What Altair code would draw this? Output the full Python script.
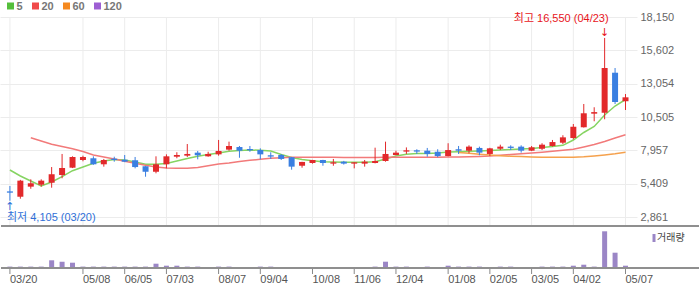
import altair as alt
import pandas as pd

# ---------------- data ----------------
tick_pos = [0, 7, 11, 15, 20, 24, 29, 33, 37, 42, 46, 50, 54, 59]
tick_labels = ["03/20", "05/08", "06/05", "07/03", "08/07", "09/04", "10/08",
               "11/06", "12/04", "01/08", "02/05", "03/05", "04/02", "05/07"]
price_ticks = [18150, 15602, 13054, 10505, 7957, 5409, 2861]

opens = [4820, 4410, 5180, 5330, 5480, 6070, 6630, 7220, 7350, 6890,
         7320, 7240, 7200, 6740, 6320, 6890, 7470, 7550, 7780, 7500,
         7650, 8010, 8210, 8060, 7980, 7580, 7600, 7430, 6780, 6990,
         7220, 6940, 7090, 6940, 6940, 6990, 7140, 7600, 7860, 7960,
         7930, 7850, 7520, 8040, 7930, 8140, 7680, 8080, 8240, 8240,
         7930, 8080, 8290, 8540, 8900, 9720, 10760, 10830, 13890, 11710]
highs = [5230, 5700, 5740, 5740, 6680, 7680, 7500, 7550, 7500, 7300,
         7470, 7600, 7450, 6750, 7500, 7650, 7810, 8440, 7910, 7850,
         8750, 8620, 8290, 8290, 8110, 7810, 7680, 7450, 7080, 7230,
         7230, 7300, 7150, 7040, 7220, 8160, 8620, 7930, 8180, 8040,
         8140, 8040, 8500, 8290, 8340, 8240, 8150, 8390, 8340, 8340,
         8290, 8500, 8750, 9110, 9970, 11500, 11250, 16550, 14250, 12260]
lows = [4105, 4260, 5020, 5180, 5100, 5820, 6600, 7120, 6850, 6710,
        7090, 7050, 6580, 5940, 6200, 6580, 7350, 7450, 7270, 7470,
        7550, 7930, 7390, 7850, 7270, 7300, 7220, 6480, 6630, 6940,
        6780, 6780, 6870, 6580, 6710, 6960, 7090, 7580, 7680, 7680,
        7470, 7430, 7500, 7680, 7730, 7580, 7520, 7980, 7980, 7780,
        7900, 7980, 8240, 8440, 8800, 9700, 10180, 10330, 11500, 11040]
closes = [4720, 5640, 5440, 5640, 6130, 6610, 7450, 7450, 6890, 7220,
          7220, 7090, 6680, 6320, 6890, 7500, 7600, 7680, 7580, 7680,
          7910, 8290, 7930, 7960, 7650, 7480, 7300, 6710, 7070, 7220,
          6990, 7040, 6940, 7040, 7090, 7140, 7680, 7780, 7960, 7860,
          7680, 7520, 7980, 7930, 8240, 7780, 8110, 8240, 8140, 7930,
          8190, 8390, 8590, 8950, 9760, 10790, 10880, 14250, 11650, 12010]
volumes = [140, 140, 140, 140, 770, 630, 530, 140, 140, 140,
           140, 140, 140, 140, 430, 230, 230, 140, 140, 40,
           140, 140, 40, 40, 140, 140, 40, 40, 30, 30,
           30, 30, 30, 40, 60, 140, 630, 140, 140, 40,
           140, 40, 230, 140, 140, 140, 40, 140, 140, 40,
           40, 140, 140, 140, 230, 330, 140, 3670, 1530, 230]  # thousands

ma5 = [6454, 5995, 5613, 5231, 5537, 5942, 6400, 6683, 6966, 7142,
       7257, 7218, 7066, 6890, 6890, 6951, 7142, 7333, 7501, 7639,
       7753, 7883, 7944, 7983, 7960, 7906, 7639, 7410, 7257, 7165,
       7088, 7066, 7043, 7043, 7043, 7088, 7295, 7524, 7654, 7715,
       7715, 7753, 7830, 7853, 7883, 7906, 7944, 7983, 8021, 8059,
       8098, 8174, 8250, 8342, 8747, 9321, 9779, 10658, 11346, 11843]
ma20 = [8923, 8671, 8419, 8250, 8082, 7868, 7601, 7448, 7295, 7119,
        6974, 6813, 6683, 6607, 6584, 6584, 6645, 6775,
        6913, 6989, 7104, 7196, 7272, 7348, 7387, 7425, 7425, 7425,
        7425, 7420, 7418, 7415, 7412, 7415, 7420, 7425, 7430, 7430,
        7432, 7432, 7448, 7448, 7463, 7486, 7524, 7578, 7639, 7692,
        7753, 7815, 7891, 7960, 8036, 8212, 8403, 8633, 8900, 9152]
ma60 = [7792, 7731, 7662, 7601, 7547, 7509, 7478, 7448, 7432, 7425,
        7425, 7432, 7463, 7524, 7601, 7692, 7807]
ma_names = ["5", "20", "60", "120"]
high_date = "04/23"
low_date = "03/20"

# ---------------- styles ----------------
legend_colors = ["#55bf3b", "#f04a4a", "#f5891f", "#9d5fd3"]
line_colors = ["#86d462", "#f27a7a", "#f5a14d"]
RED = "#e2292b"
BLUE = "#3a7fe1"
VOL = "#9b86c6"
FONT = "Liberation Sans, Noto Sans CJK KR"

n = len(opens)
W, H = 637, 251
PX_PER = (price_ticks[0] - price_ticks[-1]) / 200.0
P_TOP = price_ticks[0]
p_min = P_TOP - H * PX_PER
grid_bottom = P_TOP - 209 * PX_PER
STEP = 10.6
x_scale = alt.Scale(domain=[-5 / STEP, (W - 5) / STEP], nice=False, zero=False)
y_scale = alt.Scale(domain=[p_min, P_TOP], nice=False, zero=False)
v_scale = alt.Scale(domain=[0, H * 100], nice=False, zero=False)

y_axis = alt.Axis(values=price_ticks, orient="right", format=",d", grid=True,
                  gridColor="#ececec", gridWidth=1, domain=False, ticks=False,
                  labelPadding=3, labelFontSize=11, labelColor="#666",
                  title=None, labelFlush=False, labelOverlap=False,
                  labelFont=FONT)

X = lambda f: alt.X(f, scale=x_scale, axis=None)
Y = lambda f: alt.Y(f, scale=y_scale, axis=None)

layers = []
one = pd.DataFrame({"k": [0]})
tdf = pd.DataFrame({"pos": tick_pos, "label": tick_labels})

# vertical grid + price axis
layers.append(
    alt.Chart(tdf)
    .transform_calculate(top=f"{P_TOP}", bot=f"{grid_bottom}")
    .mark_rule(color="#ececec", strokeWidth=1)
    .encode(x=X("pos:Q"),
            y=alt.Y("top:Q", scale=y_scale, axis=y_axis),
            y2="bot:Q"))

# moving averages
for name, vals, col in zip(ma_names[:3], [ma5, ma20, ma60], line_colors):
    start = n - len(vals)
    df = pd.DataFrame({"week": list(range(start, n)), "ma": vals})
    layers.append(alt.Chart(df).mark_line(color=col, strokeWidth=1.5).encode(
        x=X("week:Q"), y=Y("ma:Q")))

# candles
cdf = pd.DataFrame({"week": list(range(n)), "open": opens, "high": highs,
                    "low": lows, "close": closes})
cdf["dir"] = ["up" if c >= o else "down" for o, c in zip(opens, closes)]
cdf["b0"] = cdf[["open", "close"]].min(axis=1)
cdf["b1"] = cdf[["open", "close"]].max(axis=1)
for d, col in (("up", RED), ("down", BLUE)):
    base = alt.Chart(cdf).transform_filter(alt.datum.dir == d)
    layers.append(base.mark_rule(color=col, strokeWidth=1).encode(
        x=X("week:Q"), y=Y("low:Q"), y2="high:Q"))
    layers.append(base.mark_bar(color=col, size=6).encode(
        x=X("week:Q"), y=Y("b0:Q"), y2="b1:Q"))

# volume
vdf = pd.DataFrame({"week": list(range(n)), "vol": volumes})
layers.append(alt.Chart(vdf).mark_bar(color=VOL, size=5).encode(
    x=X("week:Q"), y=alt.Y("vol:Q", scale=v_scale, axis=None)))

# separators / axis line
for yy in (209, 251):
    layers.append(alt.Chart(one).mark_rule(color="#8f8f8f", strokeWidth=2).encode(
        x=alt.value(1), x2=alt.value(699), y=alt.value(yy)))

# date axis: ticks and labels
layers.append(alt.Chart(tdf).mark_rule(color="#888", strokeWidth=1).encode(
    x=X("pos:Q"), y=alt.value(252), y2=alt.value(257)))
layers.append(alt.Chart(tdf).mark_text(align="left", baseline="middle", fontSize=11,
                                       color="#555", font=FONT).encode(
    x=X("pos:Q"), y=alt.value(262.5), text="label:N"))

# annotations
imax = max(range(n), key=lambda i: highs[i])
imin = min(range(n), key=lambda i: lows[i])
hdf = pd.DataFrame({"week": [imax], "p": [highs[imax]],
                    "label": [f"최고 {highs[imax]:,} ({high_date})"]})
ldf = pd.DataFrame({"week": [imin], "p": [lows[imin]],
                    "label": [f"최저 {lows[imin]:,} ({low_date})"]})
layers.append(alt.Chart(hdf).mark_text(align="right", baseline="middle", dx=4, dy=-19,
                                       fontSize=11, color="#e8141b", font=FONT).encode(
    x=X("week:Q"), y=Y("p:Q"), text="label:N"))
layers.append(alt.Chart(hdf).mark_text(text="↓", align="center", baseline="bottom", dy=0,
                                       fontSize=11, color="#e8141b", font="DejaVu Sans").encode(
    x=X("week:Q"), y=Y("p:Q")))
layers.append(alt.Chart(ldf).mark_text(align="left", baseline="middle", dx=-3, dy=17.5,
                                       fontSize=11, color="#2f6fd8", font=FONT).encode(
    x=X("week:Q"), y=Y("p:Q"), text="label:N"))
layers.append(alt.Chart(ldf).mark_text(text="↑", align="center", baseline="top", dy=0,
                                       fontSize=11, color="#2f6fd8", font="DejaVu Sans").encode(
    x=X("week:Q"), y=Y("p:Q")))

# legend (top-left)
legend_x = [7, 32, 63, 94]
for lx, name, col in zip(legend_x, ma_names, legend_colors):
    layers.append(alt.Chart(one).mark_square(size=49, color=col, opacity=1).encode(
        x=alt.value(lx + 3.5), y=alt.value(-11)))
    layers.append(alt.Chart(one).mark_text(text=name, align="left", baseline="middle",
                                           fontSize=11, fontWeight="bold", color="#777",
                                           font=FONT).encode(
        x=alt.value(lx + 9.5), y=alt.value(-10.5)))

# volume legend
layers.append(alt.Chart(one).mark_rect(color=VOL).encode(
    x=alt.value(652.5), x2=alt.value(655.5), y=alt.value(217), y2=alt.value(225)))
layers.append(alt.Chart(one).mark_text(text="거래량", align="left", baseline="middle",
                                       fontSize=10, color="#444", font="Noto Sans CJK KR").encode(
    x=alt.value(657), y=alt.value(221)))

# white frame rules (fix overall extent)
for yy in (-16.5, 271.5):
    layers.append(alt.Chart(one).mark_rule(color="white", strokeWidth=1).encode(
        x=alt.value(0.5), x2=alt.value(699.5), y=alt.value(yy)))

chart = (alt.layer(*layers)
         .resolve_scale(y="independent")
         .properties(width=W, height=H, padding=0, background="white")
         .configure_view(strokeWidth=0))

chart.save("out.html", embed_options={"renderer": "svg", "actions": False})
